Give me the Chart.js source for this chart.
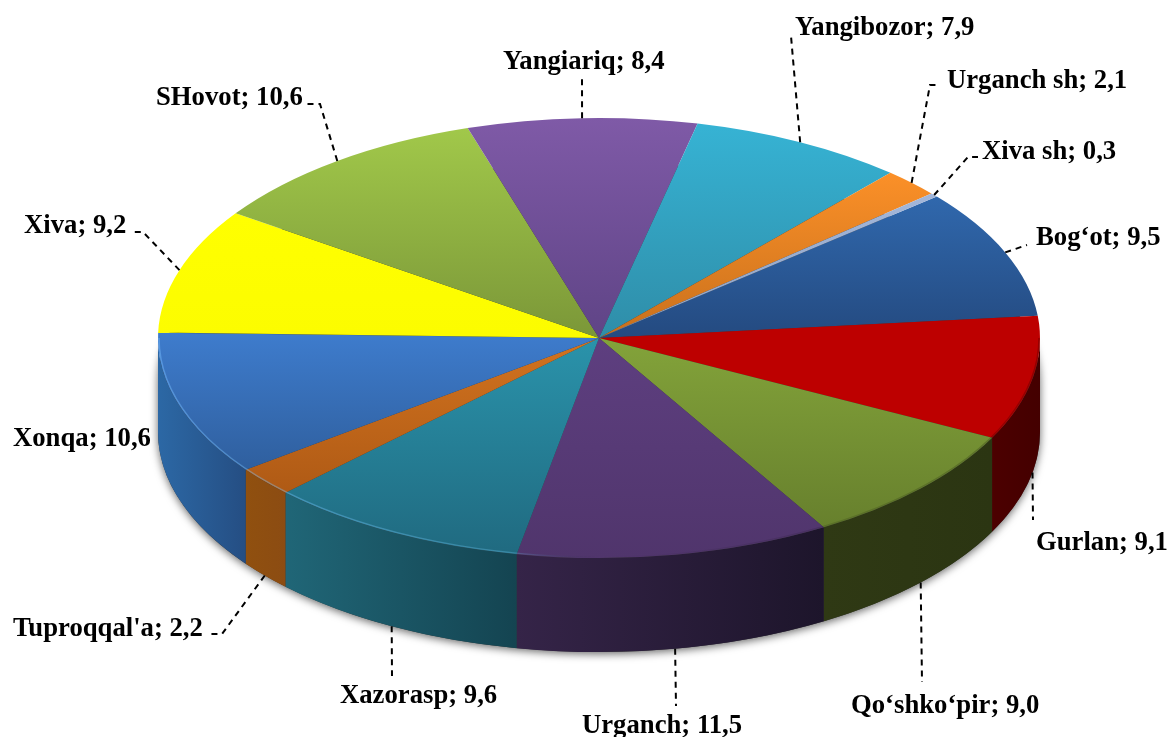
<!DOCTYPE html>
<html lang="en">
<head>
  <meta charset="UTF-8">
  <title>Tumanlar ulushi</title>
  <script src="https://cdn.jsdelivr.net/npm/chart.js"></script>
  <style>
    html, body { margin: 0; padding: 0; background: #fff; }
    #chart-container { width: 1168px; height: 737px; }
  </style>
</head>
<body>
  <div id="chart-container">
    <canvas id="pieChart" width="1168" height="737"></canvas>
  </div>

  <script>
    const districts = ['Bog‘ot', 'Gurlan', 'Qo‘shko‘pir', 'Urganch', 'Xazorasp', "Tuproqqal'a", 'Xonqa', 'Xiva', 'SHovot', 'Yangiariq', 'Yangibozor', 'Urganch sh', 'Xiva sh'];
    const shares = [9.5, 9.1, 9.0, 11.5, 9.6, 2.2, 10.6, 9.2, 10.6, 8.4, 7.9, 2.1, 0.3];
    const shareLabels = ['9,5', '9,1', '9,0', '11,5', '9,6', '2,2', '10,6', '9,2', '10,6', '8,4', '7,9', '2,1', '0,3'];

    // top face gradient (upper colour, lower colour)
    const topLight = ['#3068ad', '#bd0000', '#83a33a', '#5e3f80', '#2a93ab', '#d2731f', '#3e7ccd', '#ffff00', '#a1c84a', '#7f5aa7', '#36b3d4', '#fb9028', '#a3b7da'];
    const topDark = ['#244a80', '#bd0000', '#67802d', '#50356c', '#206a80', '#af5a15', '#2f5f9e', '#fcfc00', '#7b9738', '#5f4486', '#2f8da8', '#c8701c', '#8ea2c4'];
    // side wall gradient (left colour, right colour)
    const wallLeft = ['#254f84', '#4c0000', '#2f3914', '#352448', '#206677', '#90500f', '#2c68a5', '#999900', '#5c7a2a', '#4c3670', '#216a80', '#95551a', '#63708a'];
    const wallRight = ['#254f84', '#440000', '#2b3512', '#1d152b', '#144451', '#8c4c12', '#254e83', '#999900', '#5c7a2a', '#4c3670', '#216a80', '#95551a', '#63708a'];

    // where the labels sit, and the bend of each dashed leader (null = none)
    const labelPos = [[1036, 245], [1036, 550], [851, 713], [582, 733], [340, 703], [13, 636], [13, 446], [24, 233], [156, 105], [503, 69], [795, 35], [947, 88], [982, 159]];
    const leaderPts = [
      [[1027, 245]],
      [[1033, 520]],
      [[922, 682]],
      [[676, 706]],
      [[392, 676]],
      [[222, 634], [208, 634]],
      null,
      [[143, 232], [133, 232]],
      [[320, 104], [306, 104]],
      [[582, 76]],
      [[791, 36]],
      [[930, 85], [939, 85]],
      [[968, 157], [978, 157]]
    ];

    const pieCx = 599, pieCy = 338, pieRx = 441, pieRy = 220, pieDepth = 94;
    const startDeg = 50;

    function sliceGradient(c) {
      const area = c.chart.chartArea;
      if (!area) return topLight[c.dataIndex];
      const R = Math.min(area.right - area.left, area.bottom - area.top) / 2;
      const cy = (area.top + area.bottom) / 2;
      const total = shares.reduce((a, b) => a + b, 0);
      const before = shares.slice(0, c.dataIndex).reduce((a, b) => a + b, 0);
      const a0 = (startDeg - 90 + before / total * 360) * Math.PI / 180;
      const a1 = a0 + shares[c.dataIndex] / total * 2 * Math.PI;
      let lo = Math.min(0, Math.sin(a0), Math.sin(a1));
      let hi = Math.max(0, Math.sin(a0), Math.sin(a1));
      for (const k of [-Math.PI / 2, Math.PI / 2, 3 * Math.PI / 2]) {
        if (k > a0 && k < a1) {
          lo = Math.min(lo, Math.sin(k));
          hi = Math.max(hi, Math.sin(k));
        }
      }
      const g = c.chart.ctx.createLinearGradient(0, cy + lo * R, 0, cy + hi * R);
      g.addColorStop(0, topLight[c.dataIndex]);
      g.addColorStop(1, topDark[c.dataIndex]);
      return g;
    }

    const pie3d = {
      id: 'pie3d',
      beforeDatasetsDraw(chart) {
        const ctx = chart.ctx;
        const arcs = chart.getDatasetMeta(0).data;

        // soft shadow under the body, fades out up the sides
        ctx.save();
        ctx.shadowColor = 'rgba(0,0,0,0.6)';
        ctx.shadowBlur = 9;
        ctx.shadowOffsetY = 2;
        ctx.fillStyle = '#333';
        ctx.beginPath();
        ctx.ellipse(pieCx, pieCy + 44, pieRx, pieRy, 0, Math.PI, 0);
        ctx.ellipse(pieCx, pieCy + pieDepth, pieRx, pieRy, 0, 0, Math.PI);
        ctx.closePath();
        ctx.fill();
        ctx.restore();

        // side walls, only the part facing us
        arcs.forEach((arc, i) => {
          const lo = Math.max(arc.startAngle, 0);
          const hi = Math.min(arc.endAngle, Math.PI);
          if (lo >= hi) return;
          const x0 = pieCx + pieRx * Math.cos(hi);
          const x1 = pieCx + pieRx * Math.cos(lo);
          const g = ctx.createLinearGradient(x0, 0, x1, 0);
          g.addColorStop(0, wallLeft[i]);
          g.addColorStop(1, wallRight[i]);
          ctx.fillStyle = g;
          ctx.beginPath();
          ctx.ellipse(pieCx, pieCy, pieRx, pieRy, 0, lo, hi);
          ctx.ellipse(pieCx, pieCy + pieDepth, pieRx, pieRy, 0, hi, lo, true);
          ctx.closePath();
          ctx.fill();
        });

        // squash the flat pie into the ellipse of the top face
        const first = arcs[0];
        const sx = pieRx / first.outerRadius;
        const sy = pieRy / first.outerRadius;
        ctx.save();
        ctx.translate(pieCx, pieCy);
        ctx.scale(sx, sy);
        ctx.translate(-first.x, -first.y);
      },
      afterDatasetsDraw(chart) {
        const ctx = chart.ctx;
        ctx.restore();

        // rim highlight on the front edge
        const rim = ctx.createLinearGradient(pieCx - pieRx, 0, pieCx + pieRx, 0);
        rim.addColorStop(0, 'rgba(120,190,255,0.45)');
        rim.addColorStop(0.4, 'rgba(120,210,255,0.28)');
        rim.addColorStop(0.5, 'rgba(0,0,0,0)');
        rim.addColorStop(0.7, 'rgba(0,0,0,0.10)');
        rim.addColorStop(1, 'rgba(0,0,0,0.22)');
        ctx.strokeStyle = rim;
        ctx.lineWidth = 1.5;
        ctx.beginPath();
        ctx.ellipse(pieCx, pieCy, pieRx - 1, pieRy - 1, 0, 0, Math.PI);
        ctx.stroke();

        // leaders and labels
        const arcs = chart.getDatasetMeta(0).data;
        ctx.fillStyle = '#000';
        ctx.font = 'bold 26.7px "Liberation Serif", serif';
        ctx.textAlign = 'left';
        ctx.textBaseline = 'alphabetic';
        arcs.forEach((arc, i) => {
          const mid = (arc.startAngle + arc.endAngle) / 2;
          const front = Math.sin(mid) > 0;
          const ax = pieCx + pieRx * Math.cos(mid);
          const ay = pieCy + pieRy * Math.sin(mid) + (front ? pieDepth : 0);
          if (leaderPts[i]) {
            ctx.save();
            ctx.strokeStyle = '#000';
            ctx.lineWidth = 2;
            ctx.setLineDash([6, 5]);
            ctx.beginPath();
            ctx.moveTo(ax, ay);
            leaderPts[i].forEach(p => ctx.lineTo(p[0], p[1]));
            ctx.stroke();
            ctx.restore();
          }
          ctx.fillText(districts[i] + '; ' + shareLabels[i], labelPos[i][0], labelPos[i][1]);
        });
      }
    };

    new Chart(document.getElementById('pieChart'), {
      type: 'pie',
      data: {
        labels: districts,
        datasets: [{
          data: shares,
          backgroundColor: sliceGradient,
          borderWidth: 0,
          clip: false
        }]
      },
      options: {
        responsive: false,
        animation: false,
        rotation: startDeg,
        events: [],
        plugins: { legend: { display: false }, tooltip: { enabled: false } }
      },
      plugins: [pie3d]
    });
  </script>
</body>
</html>
